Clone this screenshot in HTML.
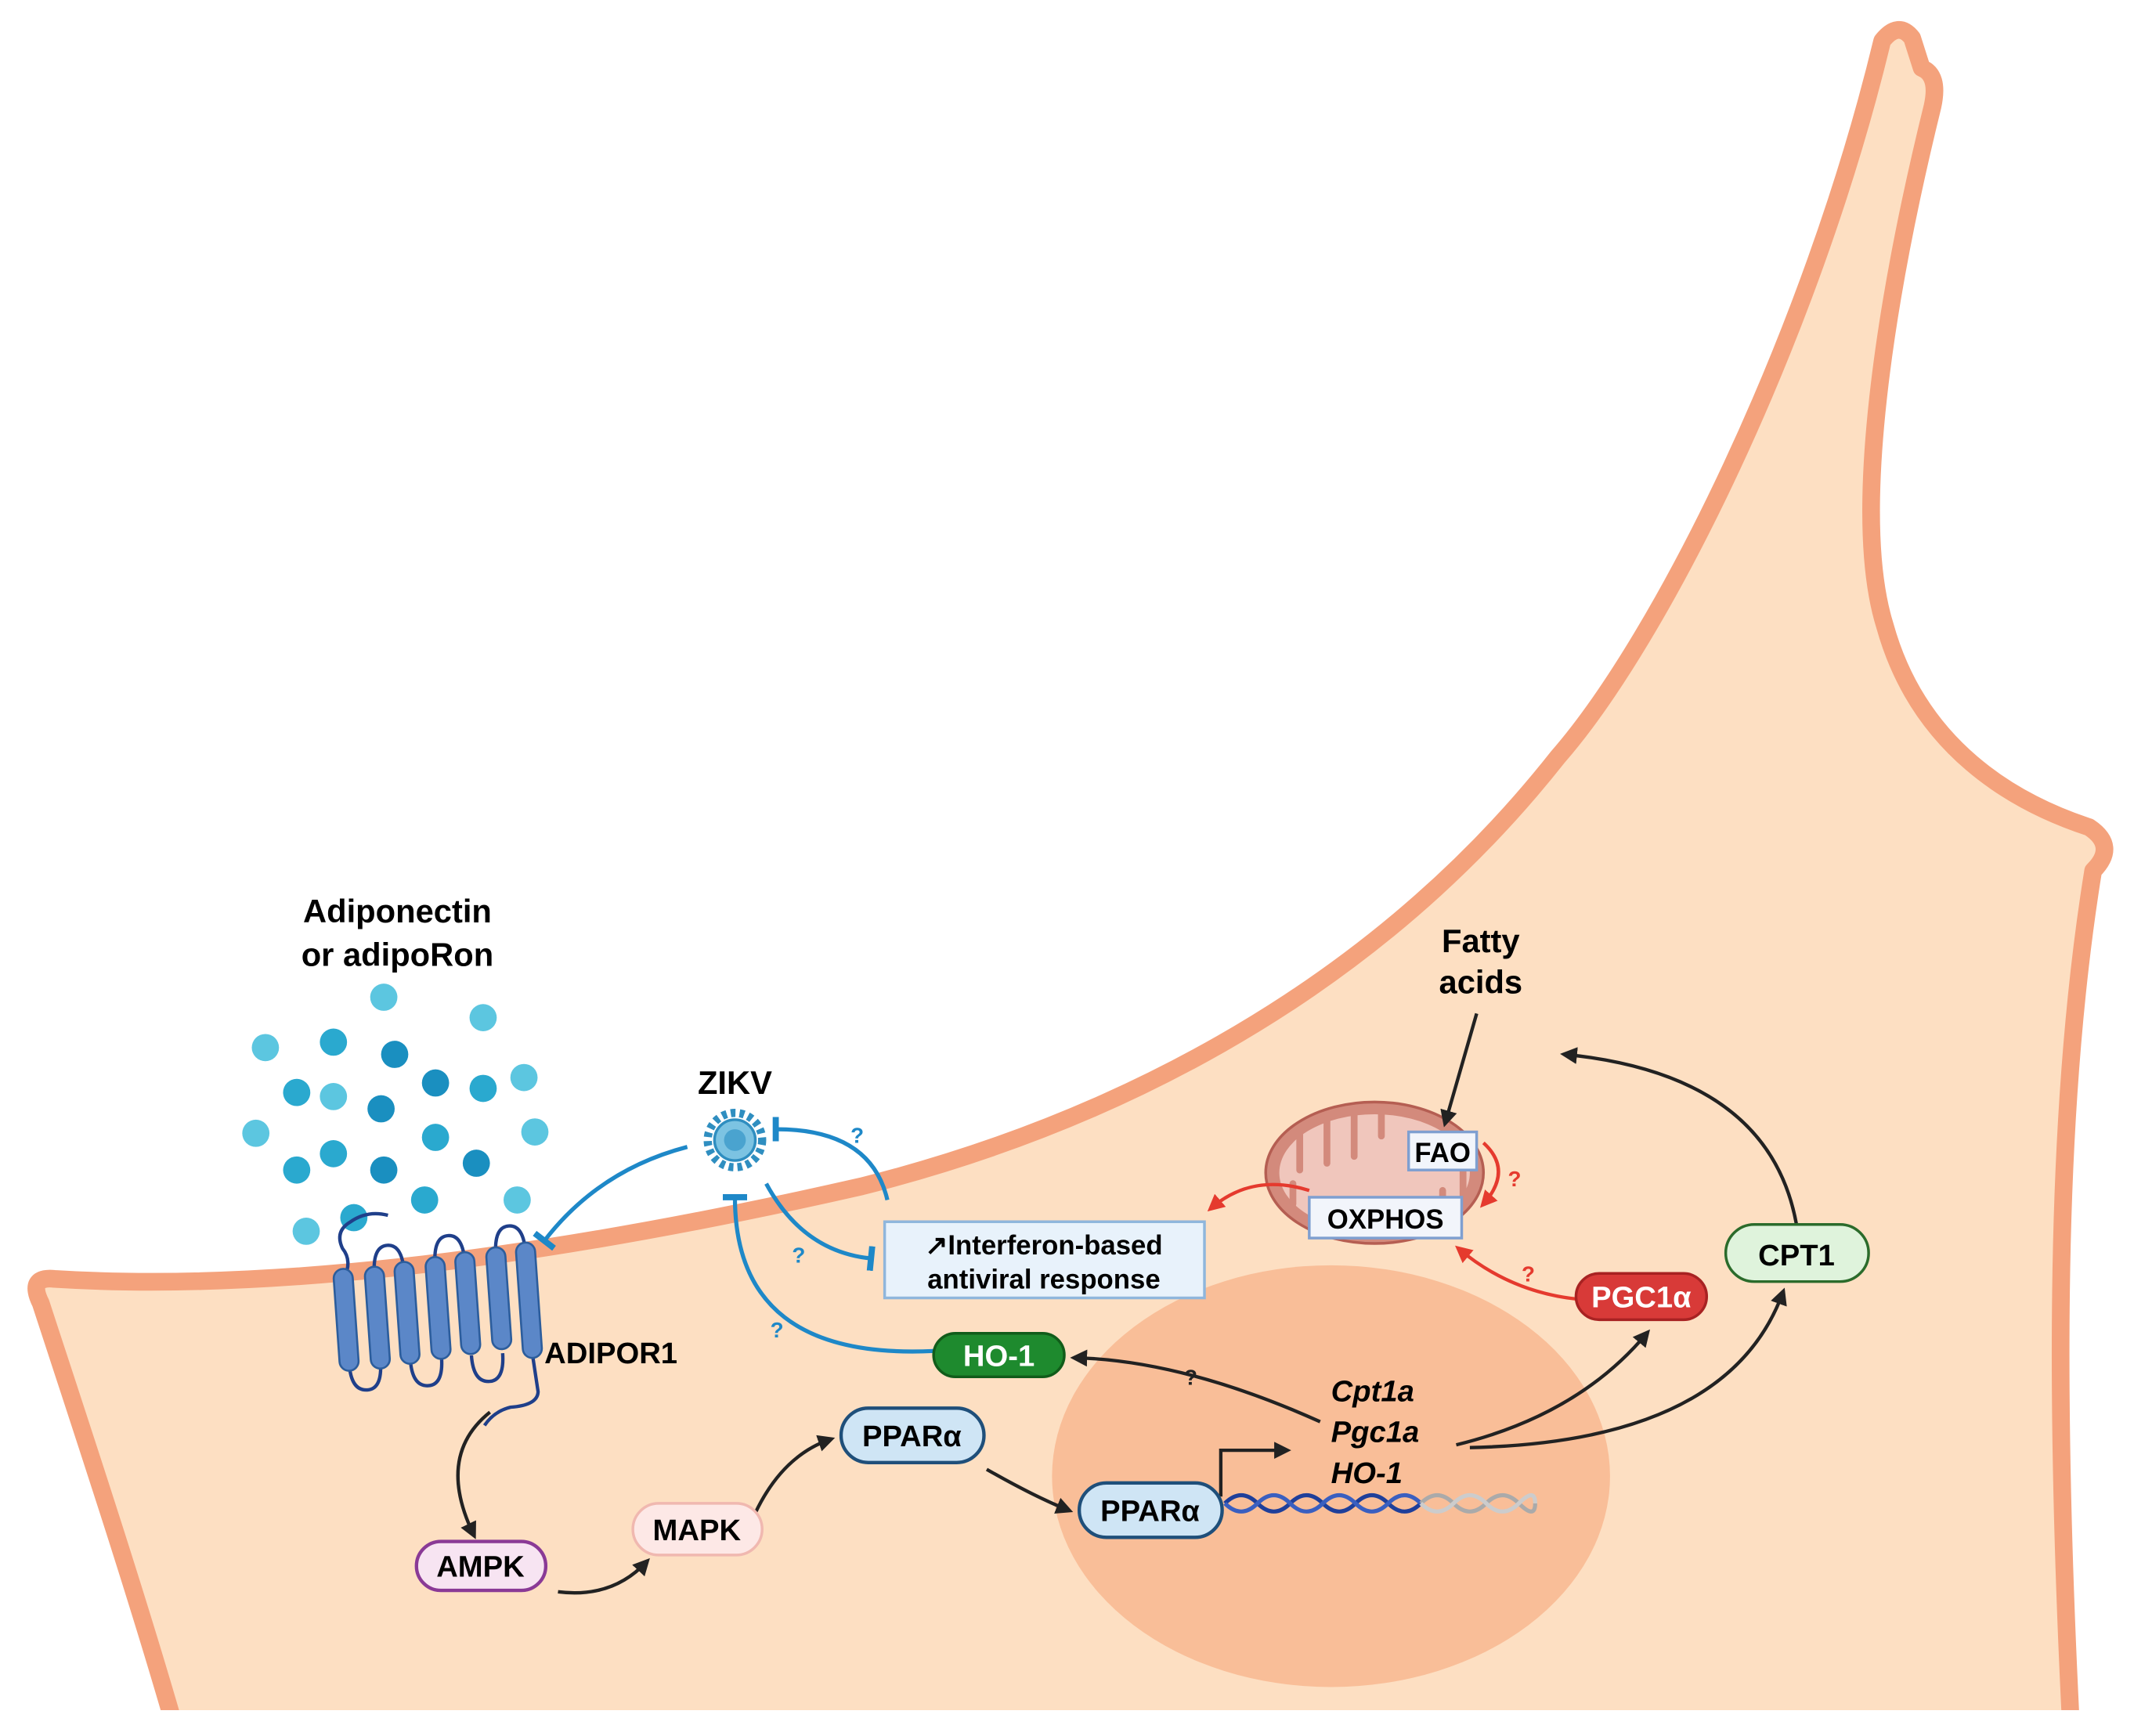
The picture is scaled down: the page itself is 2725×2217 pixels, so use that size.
<!DOCTYPE html>
<html><head><meta charset="utf-8"><style>
html,body{margin:0;padding:0;background:#fff}
svg{display:block}
text{font-family:"Liberation Sans",sans-serif;font-weight:bold}
</style></head><body>
<svg width="2725" height="2217" viewBox="0 0 1568 1276" preserveAspectRatio="none" xmlns="http://www.w3.org/2000/svg">
<defs>
<marker id="ak" viewBox="0 0 10 10" refX="7" refY="5" markerWidth="5" markerHeight="5" orient="auto"><path d="M0,0L10,5L0,10z" fill="#222"/></marker>
<marker id="ar" viewBox="0 0 10 10" refX="7" refY="5" markerWidth="5" markerHeight="5" orient="auto"><path d="M0,0L10,5L0,10z" fill="#e53a2e"/></marker>
<marker id="tb" viewBox="0 0 10 10" refX="5" refY="5" markerWidth="6" markerHeight="6" orient="auto"><path d="M5,0V10" stroke="#1e88c8" stroke-width="2.5"/></marker>
</defs>
<!-- cell -->
<path d="M130,1275 C100,1170 60,1050 30,958 Q20,938 40,940 C200,950 400,925 633,872 C800,830 1000,740 1145,556 C1220,470 1330,250 1383,30 Q1395,15 1405,28 L1412,50 Q1425,55 1420,78 C1385,220 1360,380 1385,460 C1410,550 1480,590 1535,608 Q1556,622 1538,640 C1512,800 1508,1000 1522,1275 Z" fill="#FDDFC2" stroke="#F4A27C" stroke-width="13" stroke-linejoin="round"/>
<rect x="0" y="1257" width="1568" height="20" fill="#fff"/>
<ellipse cx="978" cy="1085" rx="205" ry="155" fill="#F9BE98"/>
<!-- ligand dots -->
<g fill="#2aa9cf">
<circle cx="282" cy="733" r="10" fill="#5cc6e0"/><circle cx="355" cy="748" r="10" fill="#5cc6e0"/>
<circle cx="195" cy="770" r="10" fill="#5cc6e0"/><circle cx="245" cy="766" r="10"/><circle cx="290" cy="775" r="10" fill="#1a8fc0"/>
<circle cx="218" cy="803" r="10"/><circle cx="245" cy="806" r="10" fill="#5cc6e0"/><circle cx="320" cy="796" r="10" fill="#1a8fc0"/><circle cx="355" cy="800" r="10"/><circle cx="385" cy="792" r="10" fill="#5cc6e0"/>
<circle cx="188" cy="833" r="10" fill="#5cc6e0"/><circle cx="280" cy="815" r="10" fill="#1a8fc0"/><circle cx="320" cy="836" r="10"/><circle cx="393" cy="832" r="10" fill="#5cc6e0"/>
<circle cx="218" cy="860" r="10"/><circle cx="245" cy="848" r="10"/><circle cx="282" cy="860" r="10" fill="#1a8fc0"/><circle cx="350" cy="855" r="10" fill="#1a8fc0"/>
<circle cx="312" cy="882" r="10"/><circle cx="380" cy="882" r="10" fill="#5cc6e0"/>
<circle cx="225" cy="905" r="10" fill="#5cc6e0"/><circle cx="260" cy="895" r="10"/>
</g>
<text x="292" y="678" font-size="24" text-anchor="middle">Adiponectin</text>
<text x="292" y="710" font-size="24" text-anchor="middle">or adipoRon</text>
<!-- receptor -->
<g transform="translate(0,-12) rotate(-4 320 975)">
<g fill="none" stroke="#1f3f8a" stroke-width="2.5">
<path d="M290,903 Q275,898 262,906 Q250,912 255,925 Q262,935 254,948"/>
<path d="M277,946 Q277,925 288,925 Q299,925 299,946"/>
<path d="M322,942 Q322,921 333,921 Q344,921 344,942"/>
<path d="M367,938 Q367,917 378,917 Q389,917 389,938"/>
<path d="M254,1010 Q254,1030 266,1030 Q277,1030 277,1010"/>
<path d="M299,1010 Q299,1030 311,1030 Q322,1030 322,1010"/>
<path d="M344,1010 Q344,1030 356,1030 Q367,1030 367,1010"/>
<path d="M389,1015 L391,1040 Q390,1050 370,1050 Q358,1052 350,1062"/>
</g>
<g fill="#5b87c8" stroke="#2c5d9c" stroke-width="1.5">
<rect x="247" y="940" width="14" height="75" rx="7"/><rect x="270" y="940" width="14" height="75" rx="7"/>
<rect x="292" y="938" width="14" height="75" rx="7"/><rect x="315" y="936" width="14" height="75" rx="7"/>
<rect x="337" y="934" width="14" height="75" rx="7"/><rect x="360" y="932" width="14" height="75" rx="7"/>
<rect x="382" y="930" width="14" height="85" rx="7"/>
</g>
</g>
<text x="400" y="1002" font-size="22">ADIPOR1</text>
<!-- ZIKV -->
<text x="540" y="804" font-size="24" text-anchor="middle">ZIKV</text>
<circle cx="540" cy="838" r="20" fill="none" stroke="#2f8ec0" stroke-width="6" stroke-dasharray="3.5 3"/>
<circle cx="540" cy="838" r="15" fill="#7cc3e2" stroke="#2f8ec0" stroke-width="2"/>
<circle cx="540" cy="838" r="8" fill="#4aa3cf"/>
<!-- blue inhibitions -->
<g fill="none" stroke="#1e88c8" stroke-width="3">
<path d="M505,843 Q440,860 400,912" marker-end="url(#tb)"/>
<path d="M652,882 Q640,830 570,830" marker-end="url(#tb)"/>
<path d="M563,870 Q590,920 640,925" marker-end="url(#tb)"/>
<path d="M686,993 Q540,1000 540,880" marker-end="url(#tb)"/>
</g>
<g fill="#1e88c8" font-size="16"><text x="625" y="840">?</text><text x="582" y="928">?</text><text x="566" y="983">?</text></g>
<rect x="650" y="898" width="235" height="56" fill="#e8f2fb" stroke="#8fb6dc" stroke-width="2"/>
<text x="767" y="922" font-size="20" text-anchor="middle">↗Interferon-based</text>
<text x="767" y="947" font-size="20" text-anchor="middle">antiviral response</text>
<!-- mitochondrion -->
<ellipse cx="1010" cy="862" rx="80" ry="52" fill="#d38a7c" stroke="#b55e52" stroke-width="2"/>
<ellipse cx="1010" cy="862" rx="70" ry="43" fill="#f0c6bc"/>
<g stroke="#d38a7c" stroke-width="5" stroke-linecap="round">
<path d="M955,830V860"/><path d="M975,822V855"/><path d="M995,818V850"/><path d="M1015,818V835"/>
<path d="M950,885V870"/><path d="M1060,895V875"/><path d="M1075,880V860"/>
</g>
<rect x="1035" y="832" width="50" height="28" fill="#f2f5fb" stroke="#7f9fd0" stroke-width="2"/>
<text x="1060" y="854" font-size="20" text-anchor="middle">FAO</text>
<rect x="962" y="880" width="112" height="30" fill="#f2f5fb" stroke="#7f9fd0" stroke-width="2"/>
<text x="1018" y="903" font-size="20" text-anchor="middle">OXPHOS</text>
<text x="1088" y="700" font-size="24" text-anchor="middle">Fatty</text>
<text x="1088" y="730" font-size="24" text-anchor="middle">acids</text>
<g fill="none" stroke="#222" stroke-width="2.5" marker-end="url(#ak)">
<path d="M1085,745 L1062,825"/>
<path d="M1320,900 Q1300,790 1150,775" />
<path d="M360,1038 Q320,1070 348,1128"/>
<path d="M410,1170 Q450,1175 475,1148"/>
<path d="M555,1112 Q575,1070 610,1058"/>
<path d="M725,1080 Q760,1100 785,1110"/>
<path d="M897,1100 L897,1066 L945,1066"/>
<path d="M970,1045 Q870,1000 790,998"/>
<path d="M1070,1062 Q1160,1040 1210,980"/>
<path d="M1080,1064 Q1270,1060 1310,950"/>
</g>
<text x="870" y="1018" font-size="16" fill="#222">?</text>
<g fill="none" stroke="#e53a2e" stroke-width="2.5" marker-end="url(#ar)">
<path d="M962,875 Q920,862 890,888"/>
<path d="M1160,955 Q1110,950 1072,918"/>
<path d="M1090,840 Q1112,860 1090,885"/>
</g>
<g fill="#e53a2e" font-size="16"><text x="1108" y="872">?</text><text x="1118" y="942">?</text></g>
<!-- nodes -->
<rect x="1158" y="936" width="96" height="34" rx="17" fill="#d83a38" stroke="#a82222" stroke-width="2"/>
<text x="1206" y="961" font-size="22" text-anchor="middle" fill="#fff">PGC1α</text>
<rect x="1268" y="900" width="105" height="42" rx="21" fill="#dff3dc" stroke="#2b6b2b" stroke-width="2"/>
<text x="1320" y="930" font-size="22" text-anchor="middle">CPT1</text>
<rect x="686" y="980" width="96" height="32" rx="16" fill="#1e8a2e" stroke="#115c1a" stroke-width="2"/>
<text x="734" y="1004" font-size="22" text-anchor="middle" fill="#fff">HO-1</text>
<text x="978" y="1030" font-size="22" font-style="italic">Cpt1a</text>
<text x="978" y="1060" font-size="22" font-style="italic">Pgc1a</text>
<text x="978" y="1090" font-size="22" font-style="italic">HO-1</text>
<rect x="618" y="1035" width="105" height="40" rx="20" fill="#cfe5f5" stroke="#1f4f7a" stroke-width="2.5"/>
<text x="670" y="1063" font-size="22" text-anchor="middle">PPARα</text>
<rect x="793" y="1090" width="105" height="40" rx="20" fill="#cfe5f5" stroke="#1f4f7a" stroke-width="2.5"/>
<text x="845" y="1118" font-size="22" text-anchor="middle">PPARα</text>
<rect x="465" y="1105" width="95" height="38" rx="19" fill="#fde8e6" stroke="#f0b8b0" stroke-width="2"/>
<text x="512" y="1132" font-size="22" text-anchor="middle">MAPK</text>
<rect x="306" y="1133" width="95" height="36" rx="18" fill="#f7e4f2" stroke="#8a3a96" stroke-width="2.5"/>
<text x="353" y="1159" font-size="22" text-anchor="middle">AMPK</text>
<!-- DNA -->
<g fill="none" stroke-width="3">
<path d="M900,1105 q12,-12 24,0 t24,0 t24,0 t24,0 t24,0 t24,0" stroke="#1f3f9a"/>
<path d="M900,1105 q12,12 24,0 t24,0 t24,0 t24,0 t24,0 t24,0" stroke="#3a5fc0"/>
<path d="M1044,1105 q12,-12 24,0 t24,0 t24,0 t12,0" stroke="#aaa"/>
<path d="M1044,1105 q12,12 24,0 t24,0 t24,0 t12,0" stroke="#ccc"/>
</g>
</svg>
</body></html>
